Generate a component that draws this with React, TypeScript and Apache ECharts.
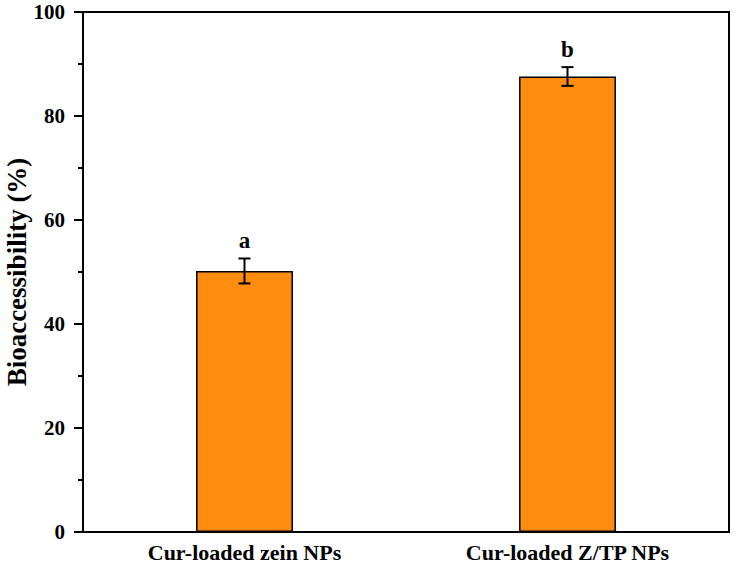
import React, { useEffect, useRef } from "react";
import * as echarts from "echarts";

const categories = ["Cur-loaded zein NPs", "Cur-loaded Z/TP NPs"];
const values = [50.2, 87.6];
const errors = [2.4, 1.8];
const letters = ["a", "b"];
const yTicks = [0, 20, 40, 60, 80, 100];

const FONT = "'Liberation Serif', 'Times New Roman', serif";

export default function App() {
  const ref = useRef<HTMLDivElement>(null);
  useEffect(() => {
    if (!ref.current) return;
    const chart = echarts.init(ref.current, null, { renderer: "svg" });
    const errData = values.map((v, i) => [i, v - errors[i], v + errors[i], letters[i]]);
    chart.setOption({
      animation: false,
      backgroundColor: "#ffffff",
      grid: { left: 83, top: 12, right: 5, bottom: 32, containLabel: false, outerBoundsMode: "none" },
      xAxis: {
        type: "category",
        data: categories,
        axisLine: { lineStyle: { color: "#000", width: 2 } },
        axisTick: { show: false },
        axisLabel: {
          color: "#000",
          fontFamily: FONT,
          fontWeight: "bold",
          fontSize: 22,
          margin: 9,
        },
      },
      yAxis: {
        type: "value",
        min: yTicks[0],
        max: yTicks[yTicks.length - 1],
        interval: 20,
        name: "Bioaccessibility (%)",
        nameLocation: "middle",
        nameGap: 53,
        nameMoveOverlap: false,
        nameTextStyle: {
          color: "#000",
          fontFamily: FONT,
          fontWeight: "bold",
          fontSize: 27,
          lineHeight: 27,
        },
        axisLine: { show: true, lineStyle: { color: "#000", width: 2 } },
        axisTick: { show: true, inside: false, length: 9, lineStyle: { color: "#000", width: 2 } },
        minorTick: { show: true, splitNumber: 2, length: 5, lineStyle: { color: "#000", width: 2 } },
        splitLine: { show: false },
        axisLabel: {
          color: "#000",
          fontFamily: FONT,
          fontWeight: "bold",
          fontSize: 21,
          margin: 18,
        },
      },
      graphic: [
        {
          type: "rect",
          shape: { x: 83, y: 12, width: 646, height: 520 },
          style: { fill: "none", stroke: "#000", lineWidth: 2 },
          silent: true,
          z: 10,
        },
      ],
      series: [
        {
          type: "bar",
          data: values,
          barWidth: "30%",
          itemStyle: { color: "#FF8C0F", borderColor: "#000", borderWidth: 1.5 },
        },
        {
          type: "custom",
          data: errData,
          z: 5,
          renderItem: (params: any, api: any) => {
            const x = api.coord([api.value(0), 0])[0];
            const lo = api.coord([api.value(0), api.value(1)])[1];
            const hi = api.coord([api.value(0), api.value(2)])[1];
            const hw = 6;
            const style = { stroke: "#000", lineWidth: 2 };
            return {
              type: "group",
              children: [
                { type: "line", shape: { x1: x, y1: lo, x2: x, y2: hi }, style },
                { type: "line", shape: { x1: x - hw, y1: lo, x2: x + hw, y2: lo }, style },
                { type: "line", shape: { x1: x - hw, y1: hi, x2: x + hw, y2: hi }, style },
                {
                  type: "text",
                  x: x,
                  y: hi - 6,
                  style: {
                    text: String(letters[params.dataIndex]),
                    fill: "#000",
                    font: `bold 23px ${FONT}`,
                    align: "center",
                    verticalAlign: "bottom",
                  },
                },
              ],
            };
          },
        },
      ],
    });
    return () => chart.dispose();
  }, []);
  return <div ref={ref} style={{ width: 734, height: 564, position: "absolute", left: 0, top: 0 }} />;
}
